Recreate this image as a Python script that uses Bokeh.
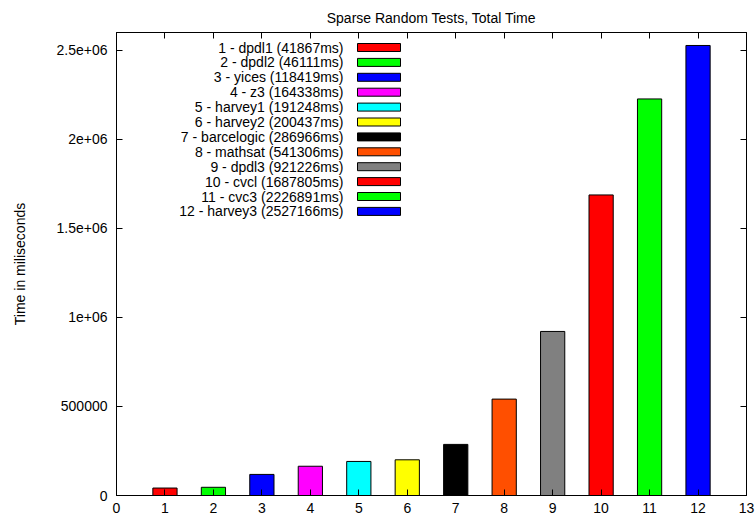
from bokeh.plotting import figure
from bokeh.models import (ColumnDataSource, FixedTicker, LinearAxis, Label,
                          BoxAnnotation, Range1d)
from bokeh.embed import file_html
from bokeh.resources import INLINE

# ---- data ----
solvers = ["dpdl1", "dpdl2", "yices", "z3", "harvey1", "harvey2",
           "barcelogic", "mathsat", "dpdl3", "cvcl", "cvc3", "harvey3"]
times_ms = [41867, 46111, 118419, 164338, 191248, 200437,
            286966, 541306, 921226, 1687805, 2226891, 2527166]
colors = ["#ff0000", "#00ff00", "#0000ff", "#ff00ff", "#00ffff", "#ffff00",
          "#000000", "#ff4f00", "#808080", "#ff0000", "#00ff00", "#0000ff"]
x_ticks = list(range(0, 14))
y_ticks = [0, 500000, 1000000, 1500000, 2000000, 2500000]
y_tick_labels = ["0", "500000", "1e+06", "1.5e+06", "2e+06", "2.5e+06"]
title_text = "Sparse Random Tests, Total Time"
y_label = "Time in miliseconds"

FONT = "Liberation Sans"
FS = "14px"

positions = list(range(1, len(solvers) + 1))
source = ColumnDataSource(dict(x=positions, top=times_ms, color=colors))

p = figure(width=755, height=519, output_backend="svg", toolbar_location=None,
           x_range=Range1d(0, 13), y_range=Range1d(0, 2600000),
           min_border_left=116, min_border_right=9, min_border_top=32,
           min_border_bottom=24)
p.grid.visible = False
p.outline_line_color = "black"
p.outline_line_width = 1
p.background_fill_color = "white"
p.border_fill_color = "white"

p.title.text = title_text
p.title.align = "center"
p.title.text_font = FONT
p.title.text_font_size = FS
p.title.text_font_style = "normal"
p.title.text_color = "black"
p.title.standoff = 14
p.title.offset = 0

p.vbar(x="x", top="top", width=0.5, fill_color="color", line_color="black",
       line_width=1, source=source)

def style_axis(ax):
    ax.major_tick_in = 6
    ax.major_tick_out = 0
    ax.minor_tick_line_color = None
    ax.axis_line_color = "black"
    ax.major_tick_line_color = "black"
    ax.major_tick_line_width = 1
    ax.major_label_text_font = FONT
    ax.major_label_text_font_size = FS
    ax.major_label_text_color = "black"

xaxis = p.xaxis[0]
xaxis.ticker = FixedTicker(ticks=x_ticks)
style_axis(xaxis)
xaxis.major_label_standoff = 7

yaxis = p.yaxis[0]
yaxis.ticker = FixedTicker(ticks=y_ticks)
yaxis.major_label_overrides = {t: l for t, l in zip(y_ticks, y_tick_labels)}
style_axis(yaxis)
yaxis.major_label_standoff = 9
yaxis.axis_label = y_label
yaxis.axis_label_text_font = FONT
yaxis.axis_label_text_font_size = FS
yaxis.axis_label_text_font_style = "normal"
yaxis.axis_label_text_color = "black"
yaxis.axis_label_standoff = 26

# mirrored tick marks (no labels) on top and right
top_axis = LinearAxis(ticker=FixedTicker(ticks=x_ticks))
style_axis(top_axis)
top_axis.major_label_overrides = {t: "" for t in x_ticks}
top_axis.major_label_standoff = 0
p.add_layout(top_axis, "above")
right_axis = LinearAxis(ticker=FixedTicker(ticks=y_ticks))
style_axis(right_axis)
right_axis.major_label_overrides = {t: "" for t in y_ticks}
right_axis.major_label_standoff = 0
p.add_layout(right_axis, "right")

# ---- legend (manual, labels left of swatches) ----
row0 = 448      # screen y (from frame bottom) of first row centre
row_step = 14.9
text_right = 227
sw_left, sw_right, sw_h = 241, 284, 8
for i, (name, t, c) in enumerate(zip(solvers, times_ms, colors)):
    yc = row0 - i * row_step
    p.add_layout(Label(x=text_right, y=yc, x_units="screen", y_units="screen",
                       text=f"{i + 1} - {name} ({t}ms)", text_align="right",
                       text_baseline="middle", text_font=FONT,
                       text_font_size=FS, text_color="black"))
    p.add_layout(BoxAnnotation(left=sw_left, right=sw_right,
                               bottom=yc - sw_h / 2, top=yc + sw_h / 2,
                               left_units="screen", right_units="screen",
                               top_units="screen", bottom_units="screen",
                               fill_color=c, fill_alpha=1.0,
                               line_color="black", line_width=1,
                               line_alpha=1.0))

open("out.html", "w").write(file_html(p, INLINE))
